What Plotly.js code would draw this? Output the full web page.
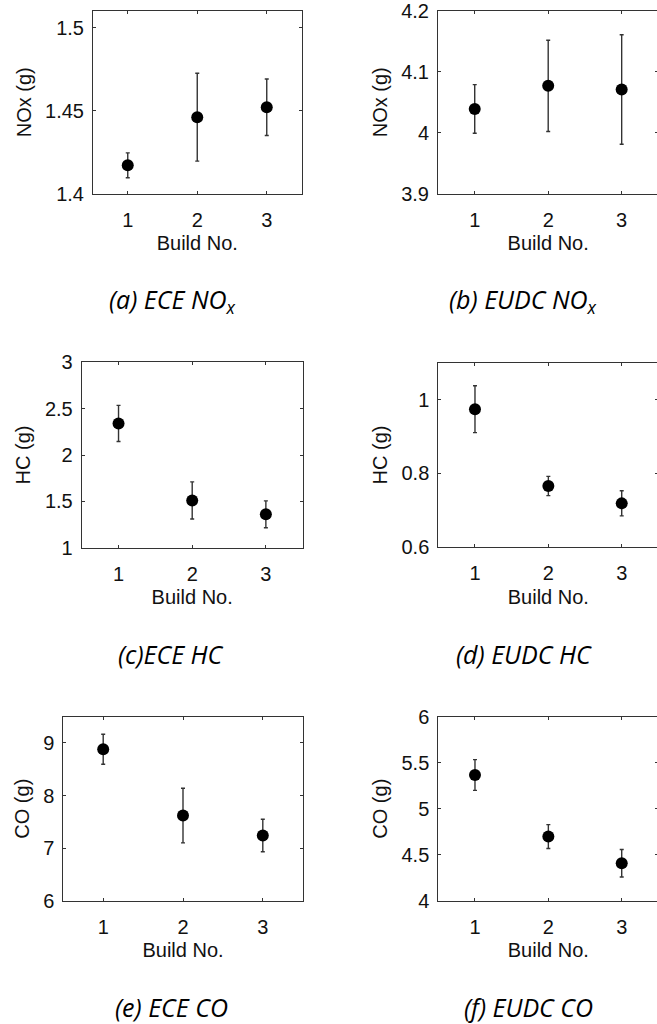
<!DOCTYPE html>
<html>
<head>
<meta charset="utf-8">
<script src="https://cdn.plot.ly/plotly-3.0.1.min.js"></script>
<style>
html, body { margin: 0; padding: 0; overflow: hidden; background: #fff; }
#chart { width: 660px; height: 1024px; }
</style>
</head>
<body>
<div id="chart"></div>
<script>
// ---- data ----
const builds = [1, 2, 3];
const xTickText = ['1', '2', '3'];

const eceNOx = [1.417, 1.446, 1.452];
const eceNOxErr = [0.0075, 0.0265, 0.017];
const eudcNOx = [4.039, 4.077, 4.071];
const eudcNOxErr = [0.040, 0.075, 0.090];
const eceHC = [2.34, 1.51, 1.36];
const eceHCErr = [0.195, 0.200, 0.145];
const eudcHC = [0.974, 0.766, 0.719];
const eudcHCErr = [0.0635, 0.026, 0.034];
const eceCO = [8.88, 7.62, 7.24];
const eceCOErr = [0.285, 0.52, 0.31];
const eudcCO = [5.366, 4.697, 4.407];
const eudcCOErr = [0.167, 0.130, 0.150];

const yTicksA = [1.4, 1.45, 1.5];      const yTextA = ['1.4', '1.45', '1.5'];
const yTicksB = [3.9, 4.0, 4.1, 4.2];  const yTextB = ['3.9', '4', '4.1', '4.2'];
const yTicksC = [1, 1.5, 2, 2.5, 3];   const yTextC = ['1', '1.5', '2', '2.5', '3'];
const yTicksD = [0.6, 0.8, 1.0];       const yTextD = ['0.6', '0.8', '1'];
const yTicksE = [6, 7, 8, 9];          const yTextE = ['6', '7', '8', '9'];
const yTicksF = [4, 4.5, 5, 5.5, 6];   const yTextF = ['4', '4.5', '5', '5.5', '6'];

const yTitles = ['NOx (g)', 'NOx (g)', 'HC (g)', 'HC (g)', 'CO (g)', 'CO (g)'];
const xTitle = 'Build No.';
const captions = ['(a) ECE NO<sub>x</sub>', '(b) EUDC NO<sub>x</sub>', '(c)ECE HC',
                  '(d) EUDC HC', '(e) ECE CO', '(f) EUDC CO'];

// ---- layout geometry (pixels) ----
const W = 660, H = 1024;
const EPS = 1e-6;
const panels = [
  {x: [93, 301.5],    y: [11, 193.5],    yr: [1.4, 1.51], tv: yTicksA, tt: yTextA, v: eceNOx,  e: eceNOxErr,  cap: [172.5, 300]},
  {x: [438, 658.4],   y: [11, 193.5],    yr: [3.9, 4.2],  tv: yTicksB, tt: yTextB, v: eudcNOx, e: eudcNOxErr, cap: [523, 300]},
  {x: [81.7, 302.7],  y: [362.3, 547.7], yr: [1, 3],      tv: yTicksC, tt: yTextC, v: eceHC,   e: eceHCErr,   cap: [171, 653.5]},
  {x: [438.3, 658.4], y: [362.7, 547.3], yr: [0.6, 1.1],  tv: yTicksD, tt: yTextD, v: eudcHC,  e: eudcHCErr,  cap: [524, 653.5]},
  {x: [63.3, 302.7],  y: [716.7, 900.7], yr: [6, 9.5],    tv: yTicksE, tt: yTextE, v: eceCO,   e: eceCOErr,   cap: [171.5, 1006.5]},
  {x: [438.3, 658.4], y: [716.7, 900.7], yr: [4, 6],      tv: yTicksF, tt: yTextF, v: eudcCO,  e: eudcCOErr,  cap: [528, 1006.5]}
];

const lineCol = '#333333';
const textCol = '#111111';
const tickFont = {family: 'Liberation Sans, Arial, sans-serif', size: 20, color: textCol};

const data = [];
const layout = {
  width: W, height: H,
  margin: {l: 0, r: 0, t: 0, b: 0},
  paper_bgcolor: '#ffffff',
  plot_bgcolor: '#ffffff',
  showlegend: false,
  annotations: []
};

panels.forEach((p, i) => {
  const n = i + 1;
  const xa = n === 1 ? 'x' : 'x' + n;
  const ya = n === 1 ? 'y' : 'y' + n;
  data.push({
    type: 'scatter', mode: 'markers',
    x: builds, y: p.v,
    xaxis: xa, yaxis: ya,
    marker: {color: '#000000', size: 12},
    error_y: {type: 'data', array: p.e, visible: true, color: lineCol, thickness: 1.4, width: 2},
    cliponaxis: false
  });
  const common = {
    showline: true, mirror: 'ticks', linecolor: lineCol, linewidth: 1,
    ticks: 'inside', ticklen: 3, tickwidth: 1, tickcolor: lineCol,
    showgrid: false, zeroline: false, tickfont: tickFont, fixedrange: true,
    ticklabeloverflow: 'allow'
  };
  layout['xaxis' + (n === 1 ? '' : n)] = Object.assign({}, common, {
    domain: [p.x[0] / W, p.x[1] / W],
    range: [0.5, 3.5],
    tickmode: 'array', tickvals: builds, ticktext: xTickText,
    anchor: ya,
    ticklabelstandoff: 8,
    title: {text: xTitle, font: tickFont, standoff: 6}
  });
  layout['yaxis' + (n === 1 ? '' : n)] = Object.assign({}, common, {
    domain: [1 - p.y[1] / H, 1 - p.y[0] / H],
    range: [p.yr[0] - EPS, p.yr[1] + EPS],
    tickmode: 'array', tickvals: p.tv, ticktext: p.tt,
    anchor: xa,
    ticklabelstandoff: 4,
    title: {text: yTitles[i], font: tickFont, standoff: 8}
  });
  layout.annotations.push({
    xref: 'paper', yref: 'paper',
    x: p.cap[0] / W, y: 1 - p.cap[1] / H,
    xanchor: 'center', yanchor: 'middle',
    showarrow: false,
    text: captions[i],
    font: {family: 'Open Sans, Noto Sans, sans-serif', size: 25, style: 'italic', color: '#000000'}
  });
});

Plotly.newPlot('chart', data, layout, {staticPlot: true, displayModeBar: false});
</script>
</body>
</html>
